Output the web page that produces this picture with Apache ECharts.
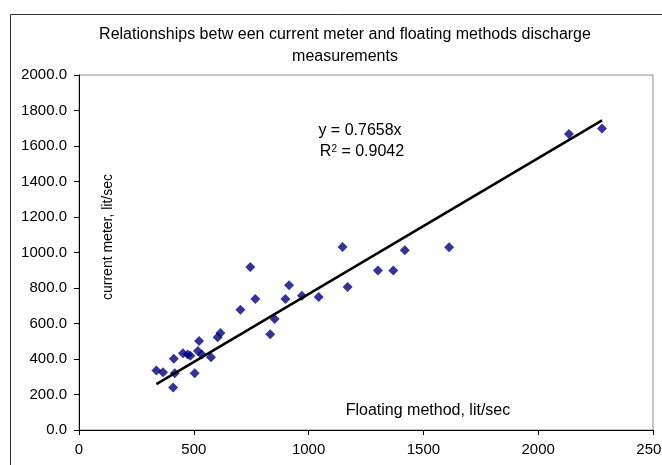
<!DOCTYPE html>
<html>
<head>
<meta charset="utf-8">
<script src="https://cdn.jsdelivr.net/npm/echarts@6/dist/echarts.min.js"></script>
<style>
html,body{margin:0;padding:0;background:#fff;}
#chart{width:662px;height:465px;}
</style>
</head>
<body>
<div id="chart"></div>
<script>
// Floating method discharge (lit/sec)
const floatingX = [337, 366, 413, 417, 410, 453, 474, 485, 504, 523, 518, 535, 575, 604, 616,
  703, 746, 768, 833, 852, 899, 915, 971, 1044, 1148, 1170, 1302, 1369, 1419, 1612, 2134, 2278];
// Current meter discharge (lit/sec)
const currentY = [335, 326, 401, 320, 239, 433, 425, 418, 320, 501, 445, 425, 410, 523, 546,
  677, 918, 738, 540, 625, 738, 815, 756, 749, 1031, 806, 899, 899, 1012, 1029, 1667, 1699];
const slope = 0.7658;
const r2 = 0.9042;
const xTicks = [0, 500, 1000, 1500, 2000, 2500];
const yTicks = [0, 200, 400, 600, 800, 1000, 1200, 1400, 1600, 1800, 2000];

const points = floatingX.map((x, i) => [x, currentY[i]]);
const xMin = Math.min(...floatingX), xMax = Math.max(...floatingX);
const trend = [[xMin, slope * xMin], [xMax, slope * xMax]];

const FONT = '"Liberation Sans", Arial, sans-serif';
const chart = echarts.init(document.getElementById('chart'));
chart.setOption({
  backgroundColor: '#ffffff',
  animation: false,
  title: {
    text: 'Relationships betw een current meter and floating methods discharge\nmeasurements',
    left: 340, top: 19, textAlign: 'center',
    textStyle: {fontFamily: FONT, fontSize: 16, fontWeight: 'normal', color: '#000', lineHeight: 22}
  },
  grid: {left: 79, top: 75, right: 9, bottom: 35, outerBoundsMode: 'none', containLabel: false,
    show: true, borderColor: '#8c8c8c', borderWidth: 1, backgroundColor: '#fff'},
  xAxis: {
    type: 'value', min: xTicks[0], max: xTicks[xTicks.length - 1], interval: 500,
    axisLine: {show: true, onZero: false, lineStyle: {color: '#000', width: 1}},
    axisTick: {show: true, length: 5, lineStyle: {color: '#000'}},
    axisLabel: {fontFamily: FONT, fontSize: 15, color: '#000', margin: 12, formatter: v => String(v)},
    splitLine: {show: false}
  },
  yAxis: {
    type: 'value', min: yTicks[0], max: yTicks[yTicks.length - 1], interval: 200,
    axisLine: {show: true, onZero: false, lineStyle: {color: '#000', width: 1}},
    axisTick: {show: true, length: 5, lineStyle: {color: '#000'}},
    axisLabel: {fontFamily: FONT, fontSize: 15, color: '#000', margin: 12, formatter: v => v.toFixed(1)},
    splitLine: {show: false}
  },
  series: [
    {
      type: 'scatter', data: points, symbol: 'diamond', symbolSize: 10,
      itemStyle: {color: '#000080'}, z: 3
    },
    {
      type: 'line', data: trend, symbol: 'none', lineStyle: {color: '#000', width: 2.5}, z: 4
    }
  ],
  graphic: [
    {type: 'rect', left: 8, top: 12, shape: {width: 700, height: 500}, style: {fill: 'none', stroke: '#333', lineWidth: 1}, z: -1, silent: true},
    {type: 'text', x: 108, y: 237, rotation: Math.PI / 2, style: {text: 'current meter, lit/sec', fontFamily: FONT, fontSize: 14, fill: '#000', textAlign: 'center', textVerticalAlign: 'middle'}},
    {type: 'text', x: 428, y: 411, style: {text: 'Floating method, lit/sec', fontFamily: FONT, fontSize: 16, fill: '#000', textAlign: 'center', textVerticalAlign: 'middle'}},
    {type: 'text', x: 360, y: 131, style: {text: 'y = ' + slope + 'x', fontFamily: FONT, fontSize: 16, fill: '#000', textAlign: 'center', textVerticalAlign: 'middle'}},
    {type: 'text', x: 362, y: 152, style: {text: '{a|R}{s|2}{a| = ' + r2 + '}', fontFamily: FONT, textAlign: 'center', textVerticalAlign: 'middle', rich: {a: {fontFamily: FONT, fontSize: 16, color: '#000'}, s: {fontFamily: FONT, fontSize: 10, color: '#000', verticalAlign: 'top', padding: [0, 0, 6, 0]}}}}
  ]
});
</script>
</body>
</html>
